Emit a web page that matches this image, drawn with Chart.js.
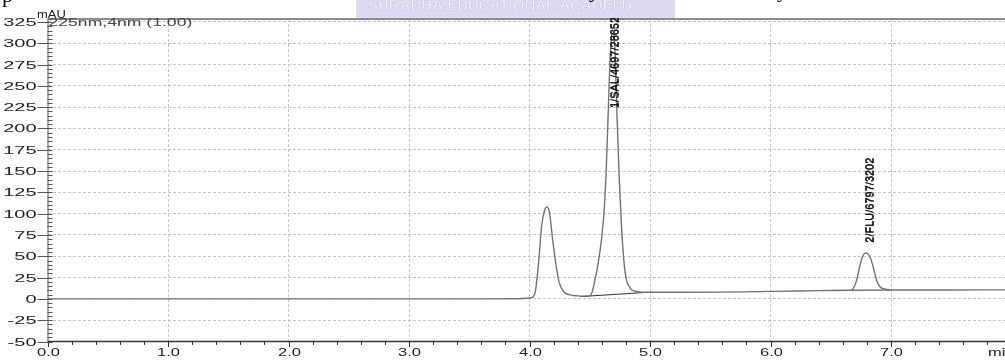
<!DOCTYPE html>
<html>
<head>
<meta charset="utf-8">
<script src="https://cdn.jsdelivr.net/npm/chart.js@4/dist/chart.umd.min.js"></script>
<style>
html,body{margin:0;padding:0;background:#fff;overflow:hidden;width:1005px;height:360px;}
canvas{display:block;}
</style>
</head>
<body>
<canvas id="c" width="1040" height="360"></canvas>
<script>
// ---- data ----
const xTickValues = [0, 1, 2, 3, 4, 5, 6, 7, 8];
const xTickLabels = ['0.0', '1.0', '2.0', '3.0', '4.0', '5.0', '6.0', '7.0', 'min'];
const yTickValues = [-50, -25, 0, 25, 50, 75, 100, 125, 150, 175, 200, 225, 250, 275, 300, 325];
const yTickLabels = ['-50', '-25', '0', '25', '50', '75', '100', '125', '150', '175', '200', '225', '250', '275', '300', '325'];

const traceTime = [0.00, 1.00, 2.00, 3.00, 3.50, 3.90, 3.97, 4.00, 4.03, 4.05, 4.08, 4.10, 4.125, 4.145, 4.165, 4.19, 4.22, 4.245, 4.28, 4.33, 4.40, 4.47, 4.50, 4.52, 4.54, 4.565, 4.585, 4.605, 4.62, 4.635, 4.65, 4.67, 4.69, 4.71, 4.725, 4.745, 4.765, 4.785, 4.805, 4.83, 4.85, 4.90, 4.95, 5.30, 6.00, 6.40, 6.65, 6.675, 6.70, 6.715, 6.74, 6.77, 6.79, 6.825, 6.855, 6.88, 6.91, 6.95, 6.99, 7.50, 8.00];
const traceSignal = [0, 0, 0, 0, 0, 0.2, 0.8, 1.0, 2.5, 10, 50, 85, 104, 108, 102, 72, 40, 20, 9, 5, 3.6, 3.3, 3.6, 8, 20, 38, 56, 80, 105, 145, 205, 285, 316, 290, 220, 140, 81, 42, 22, 14, 10.5, 8.5, 7.8, 7.8, 8.8, 9.7, 10.2, 10.4, 16, 22, 38, 51.5, 54, 49.5, 36, 22, 14, 11.6, 10.4, 10.5, 10.6];

const baseline1Time = [4.42, 4.945];
const baseline1Signal = [2.7, 7.4];
const baseline2Time = [6.675, 6.99];
const baseline2Signal = [10.2, 10.4];

const peakLabelText = ['1/SAL/4697/28652', '2/FLU/6797/3202'];
const peakLabelTime = [4.71, 6.825];
const peakLabelBase = [224, 66];

const channelText = '225nm,4nm (1.00)';
const unitText = 'mAU';
const watermarkText = 'SHRADHA EDUCATIONAL ACADEMY';

// ---- build datasets ----
const toPts = (xs, ys) => xs.map((x, i) => ({x: x, y: ys[i]}));

function sText(ctx, txt, x, y, align, sx) {
  ctx.save();
  ctx.translate(x, y);
  ctx.scale(sx, 1);
  ctx.textAlign = align;
  ctx.fillText(txt, 0, 0);
  ctx.restore();
}

const decor = {
  id: 'decor',
  beforeDraw(chart) {
    const ctx = chart.ctx;
    ctx.save();
    ctx.fillStyle = '#fff';
    ctx.fillRect(0, 0, chart.width, chart.height);
    ctx.restore();
  },
  afterDraw(chart) {
    const ctx = chart.ctx;
    const a = chart.chartArea;
    const xs = chart.scales.x, ys = chart.scales.y;
    ctx.save();

    // top border
    ctx.strokeStyle = '#8c8c8c';
    ctx.lineWidth = 2;
    ctx.beginPath(); ctx.moveTo(a.left, 19); ctx.lineTo(chart.width, 19); ctx.stroke();

    // left axis
    ctx.strokeStyle = '#555';
    ctx.lineWidth = 1;
    ctx.beginPath(); ctx.moveTo(a.left + 0.5, 19); ctx.lineTo(a.left + 0.5, a.bottom); ctx.stroke();

    // y minor ticks (inside)
    ctx.beginPath();
    for (let v = -50; v <= 325; v += 5) {
      if (v % 25 === 0) continue;
      const py = Math.round(ys.getPixelForValue(v)) + 0.5;
      ctx.moveTo(a.left, py); ctx.lineTo(a.left + 5, py);
    }
    ctx.stroke();

    // y major ticks + labels
    ctx.fillStyle = '#222';
    ctx.font = '10px "Liberation Sans", Arial, sans-serif';
    ctx.textBaseline = 'middle';
    yTickValues.forEach((v, i) => {
      const py = Math.round(ys.getPixelForValue(v)) + 0.5;
      ctx.beginPath(); ctx.moveTo(a.left - 10, py); ctx.lineTo(a.left + 5, py); ctx.stroke();
      sText(ctx, yTickLabels[i], a.left - 11, py + 0.5, 'right', 2.0);
    });

    // bottom axis
    ctx.strokeStyle = '#333';
    ctx.lineWidth = 1.5;
    ctx.beginPath(); ctx.moveTo(a.left, a.bottom); ctx.lineTo(chart.width, a.bottom); ctx.stroke();

    // x minor ticks
    ctx.lineWidth = 1;
    ctx.beginPath();
    for (let k = 0; k <= 40; k++) {
      if (k % 5 === 0) continue;
      const px = Math.round(xs.getPixelForValue(k * 0.2)) + 0.5;
      ctx.moveTo(px, a.bottom); ctx.lineTo(px, a.bottom + 3.5);
    }
    ctx.stroke();

    // x major ticks + labels
    ctx.textBaseline = 'middle';
    xTickValues.forEach((v, i) => {
      const px = Math.round(xs.getPixelForValue(v)) + 0.5;
      ctx.beginPath(); ctx.moveTo(px, a.bottom); ctx.lineTo(px, a.bottom + 5.5); ctx.stroke();
      if (i === xTickValues.length - 1) {
        sText(ctx, xTickLabels[i], px + 2, 353.5, 'right', 1.65);
      } else {
        sText(ctx, xTickLabels[i], px, 353.5, 'center', 1.65);
      }
    });

    // unit + channel text
    ctx.fillStyle = '#222';
    ctx.font = '10px "Liberation Sans", Arial, sans-serif';
    ctx.textBaseline = 'alphabetic';
    sText(ctx, unitText, 37, 17.5, 'left', 1.3);
    ctx.fillStyle = '#444';
    ctx.font = '10px "Liberation Sans", Arial, sans-serif';
    ctx.textBaseline = 'middle';
    sText(ctx, channelText, a.left + 1, 23, 'left', 1.76);

    // peak labels (vertical)
    ctx.fillStyle = '#111';
    ctx.font = '11px "Liberation Sans", Arial, sans-serif';
    peakLabelText.forEach((t, i) => {
      const px = xs.getPixelForValue(peakLabelTime[i]);
      const py = ys.getPixelForValue(peakLabelBase[i]);
      ctx.save();
      ctx.translate(px, py);
      ctx.rotate(-Math.PI / 2);
      ctx.textAlign = 'left';
      ctx.textBaseline = 'middle';
      ctx.fillText(t, 0, 0);
      ctx.fillText(t, 0, 0.6);
      ctx.restore();
    });

    // watermark strip at top
    ctx.fillStyle = '#dcd9f0';
    ctx.fillRect(356, 0, 319, 18);
    ctx.fillStyle = '#f3f1fa';
    ctx.strokeStyle = '#c9c4e6';
    ctx.lineWidth = 0.6;
    ctx.font = 'bold 15px "Liberation Sans", Arial, sans-serif';
    ctx.textAlign = 'left';
    ctx.textBaseline = 'alphabetic';
    ctx.fillText(watermarkText, 368, 10, 292);
    ctx.strokeText(watermarkText, 368, 10, 292);

    // cut-off text fragments from the page above
    ctx.fillStyle = '#000';
    ctx.font = '22px "Liberation Serif", "Times New Roman", serif';
    ctx.fillText('p', 2, 2);
    ctx.fillText('y', 589, -3);
    ctx.fillText('y', 777, -3);

    ctx.restore();
  }
};

new Chart(document.getElementById('c'), {
  type: 'line',
  data: {
    datasets: [
      {
        data: toPts(traceTime, traceSignal),
        borderColor: '#727272',
        borderWidth: 1.4,
        pointRadius: 0,
        fill: false,
        cubicInterpolationMode: 'monotone'
      },
      {
        data: toPts(baseline1Time, baseline1Signal),
        borderColor: '#333',
        borderWidth: 1,
        pointRadius: 0,
        fill: false
      },
      {
        data: toPts(baseline2Time, baseline2Signal),
        borderColor: '#333',
        borderWidth: 1,
        pointRadius: 0,
        fill: false
      }
    ]
  },
  options: {
    responsive: false,
    animation: false,
    devicePixelRatio: 1,
    layout: {padding: {top: 19, right: 28.5, left: 0, bottom: 0}},
    plugins: {legend: {display: false}, tooltip: {enabled: false}},
    scales: {
      x: {
        type: 'linear',
        min: 0,
        max: 8,
        afterBuildTicks: s => { s.ticks = xTickValues.map(v => ({value: v})); },
        afterFit: s => { s.height = 18.5; },
        ticks: {display: false},
        grid: {
          drawTicks: false,
          lineWidth: 1,
          color: c => (c.tick && c.tick.value > 0 && c.tick.value < 8) ? '#c4c4c4' : 'rgba(0,0,0,0)'
        },
        border: {display: false, dash: [3, 2]}
      },
      y: {
        type: 'linear',
        min: -50,
        max: 328.5,
        afterBuildTicks: s => { s.ticks = yTickValues.map(v => ({value: v})); },
        afterFit: s => { s.width = 47.5; },
        ticks: {display: false},
        grid: {
          drawTicks: false,
          lineWidth: 1,
          color: c => (c.tick && c.tick.value > -50) ? '#c4c4c4' : 'rgba(0,0,0,0)'
        },
        border: {display: false, dash: [3, 2]}
      }
    }
  },
  plugins: [decor]
});
</script>
</body>
</html>
